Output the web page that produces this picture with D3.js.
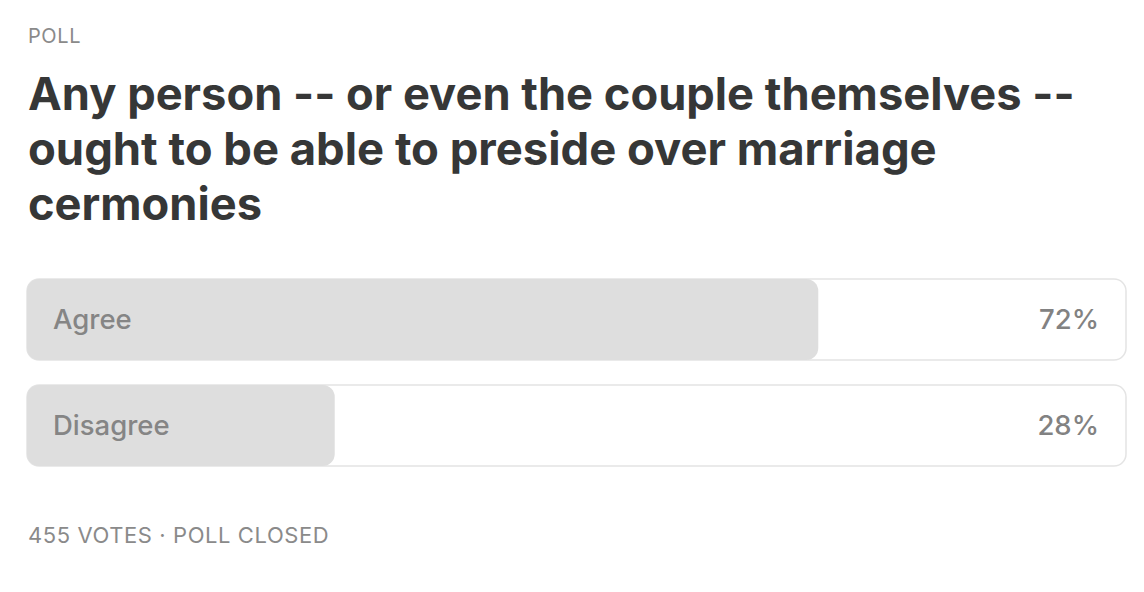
<!DOCTYPE html>
<html><head><meta charset="utf-8">
<script src="https://cdn.jsdelivr.net/npm/d3@7"></script>
<style>html,body{margin:0;padding:0;background:#fff;}svg{display:block;}</style>
</head><body>
<script>
const kicker = "POLL";
const titleLines = ["Any person -- or even the couple themselves --", "ought to be able to preside over marriage", "cermonies"];
const options = ["Agree", "Disagree"];
const percents = [72, 28];
const footer = "455 VOTES · POLL CLOSED";

const W = 1144, H = 592;
const svg = d3.select("body").append("svg").attr("width", W).attr("height", H);
const font = "Inter, 'Noto Sans', 'Liberation Sans', sans-serif";

function fit(sel, target) {
  const w = sel.node().getComputedTextLength();
  const fs = parseFloat(sel.attr("font-size"));
  sel.attr("font-size", fs * target / w);
}

svg.append("text").attr("x", 28).attr("y", 43).attr("font-family", font)
  .attr("font-size", 20).attr("fill", "#8a8a8a").attr("letter-spacing", 0.6).text(kicker);

const titleWidths = [1047, 909, 234];
const titleY = [110, 165, 220];
titleLines.forEach((t, i) => {
  const s = svg.append("text").attr("x", 28).attr("y", titleY[i]).attr("font-family", font)
    .attr("font-weight", 700).attr("font-size", 44).attr("fill", "#363737").text(t);
  fit(s, titleWidths[i]);
});

const x = d3.scaleLinear().domain([0, 100]).range([27, 1126]);
const y = d3.scaleBand().domain(options).range([279, 466]).paddingInner(0.236);

const rows = svg.selectAll("g.row").data(options.map((o, i) => ({o, p: percents[i]})))
  .join("g").attr("class", "row");

rows.append("rect").attr("x", x(0)).attr("y", d => y(d.o))
  .attr("width", x(100) - x(0)).attr("height", y.bandwidth())
  .attr("rx", 12).attr("fill", "#fff").attr("stroke", "#e4e4e4").attr("stroke-width", 1.5);

rows.append("rect").attr("x", x(0)).attr("y", d => y(d.o))
  .attr("width", d => x(d.p) - x(0)).attr("height", y.bandwidth())
  .attr("rx", 12).attr("fill", "#dedede");

rows.append("text").attr("x", 53).attr("y", d => y(d.o) + y.bandwidth() / 2)
  .attr("dy", "0.35em").attr("font-family", font).attr("font-size", 27.5)
  .attr("font-weight", 500).attr("fill", "#858585").text(d => d.o);

rows.append("text").attr("x", 1099).attr("y", d => y(d.o) + y.bandwidth() / 2)
  .attr("dy", "0.35em").attr("text-anchor", "end").attr("font-family", font).attr("font-size", 27.5)
  .attr("font-weight", 500).attr("fill", "#828282").text(d => d.p + "%");

const f = svg.append("text").attr("x", 28).attr("y", 543).attr("font-family", font)
  .attr("font-size", 21).attr("fill", "#8a8a8a").attr("letter-spacing", 0.6).text(footer);
fit(f, 302);
</script>
</body></html>
